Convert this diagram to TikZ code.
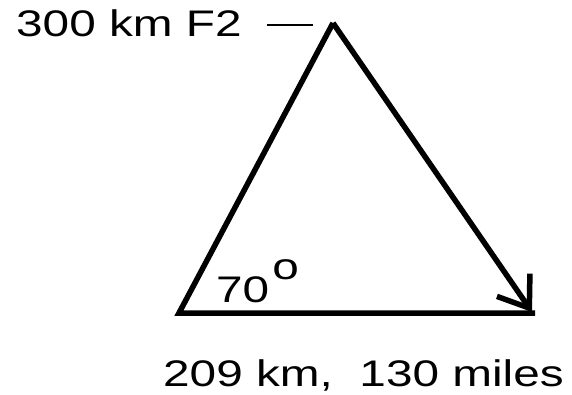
\documentclass[tikz,border=0pt]{standalone}
\usepackage{fontspec}
\usepackage{tikz}
\usetikzlibrary{arrows.meta}
\newfontfamily\lblfont[FakeStretch=1.29]{Liberation Sans}

\begin{document}
\begin{tikzpicture}[x = 1pt, y = -1pt]
        \useasboundingbox (0, 0) rectangle (572, 395);
        \tikzset{lbl/.style = {inner sep = 0pt, anchor = base west, font = \lblfont\fontsize{37}{42}\selectfont}}

        % Corners
        \coordinate (left) at (179, 313);
        \coordinate (apex) at (333, 23);
        \coordinate (right) at (532, 312);
        \coordinate (tick) at (267, 25);

        % Labels
        \node [lbl] (height) at (16, 37) {300 km F2};
        \node [lbl] (angle) at (216, 302) {70\kern3pt\raisebox{0.62em}{o}};
        \node [lbl] (range) at (163, 386) {209 km,\ \ 130 miles};

        % Triangle
        \draw [line width = 1.6pt] (tick) -- ++(46, 0);
        \draw [line width = 5.5pt, line join = miter] (right |- left) ++(3, 0) -- (left) -- (apex);
        \draw [line width = 5.5pt, -{Straight Barb[length = 28pt, width = 40pt]}] (apex) -- (right);

    \end{tikzpicture}
\end{document}
